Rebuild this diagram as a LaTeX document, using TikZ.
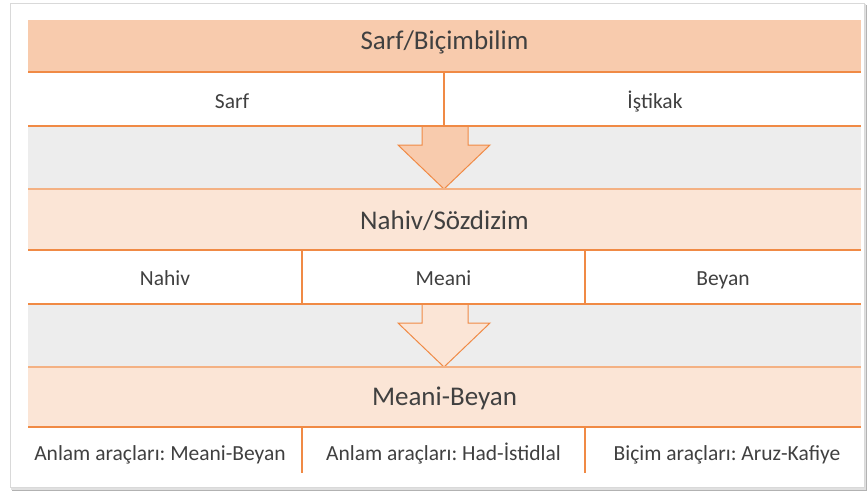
\documentclass[tikz,border=0pt]{standalone}
\usepackage{fontspec}
\setmainfont{Carlito}
\frenchspacing
\definecolor{peachA}{HTML}{F8CBAD}
\definecolor{peachB}{HTML}{FBE5D6}
\definecolor{bandgray}{HTML}{EDEDED}
\definecolor{orng}{HTML}{F08A45}
\definecolor{orngl}{HTML}{F4B183}
\definecolor{txt}{HTML}{404040}
\tikzset{
  hdrtext/.style={text=txt, font=\fontsize{27}{32}\selectfont, inner sep=0pt, anchor=base},
  celltext/.style={text=txt, font=\fontsize{21.5}{26}\selectfont, inner sep=0pt, anchor=base},
  thickline/.style={draw=orng, line width=2.2pt},
  thinline/.style={draw=orngl, line width=1.2pt},
  divline/.style={draw=orng, line width=2pt},
  bigarrow/.style={draw=orng, line width=1pt, line join=miter},
}
\begin{document}
\begin{tikzpicture}[x=1pt,y=-1pt]
\useasboundingbox (0,0) rectangle (868,493);
% frame with shadow
\fill[black!30] (12,5) rectangle (867,491);
\fill[black!12] (11,4) rectangle (866,489.5);
\filldraw[fill=white, draw=black!15, line width=0.8pt] (10,3) rectangle (864,487.5);

% bands
\fill[peachA] (28,20) rectangle (861,72);
\fill[bandgray] (28,126) rectangle (861,189);
\fill[peachB] (28,189) rectangle (861,250);
\fill[bandgray] (28,304) rectangle (861,367);
\fill[peachB] (28,367) rectangle (861,427);

% coordinates for lines
\coordinate (L1) at (28,72);  \coordinate (R1) at (861,72);
\coordinate (L2) at (28,126); \coordinate (R2) at (861,126);
\coordinate (L3) at (28,189); \coordinate (R3) at (861,189);
\coordinate (L4) at (28,250); \coordinate (R4) at (861,250);
\coordinate (L5) at (28,304); \coordinate (R5) at (861,304);
\coordinate (L6) at (28,367); \coordinate (R6) at (861,367);
\coordinate (L7) at (28,427); \coordinate (R7) at (861,427);

% arrows
\draw[bigarrow, fill=peachA] (422,126) -- (468,126) -- (468,145) -- (490,145) -- (444,189) -- (398,145) -- (422,145) -- cycle;
\draw[bigarrow, fill=peachB] (422,304) -- (468,304) -- (468,323) -- (490,323) -- (444,367) -- (398,323) -- (422,323) -- cycle;

% horizontal lines
\draw[thickline] (L1) -- (R1);
\draw[thickline] (L2) -- (R2);
\draw[thinline] (L3) -- (R3);
\draw[thickline] (L4) -- (R4);
\draw[thickline] (L5) -- (R5);
\draw[thinline] (L6) -- (R6);
\draw[thickline] (L7) -- (R7);

% vertical dividers
\coordinate (d1t) at (444,72);  \coordinate (d1b) at (444,126);
\coordinate (d2t) at (302,250); \coordinate (d2b) at (302,304);
\coordinate (d3t) at (585,250); \coordinate (d3b) at (585,304);
\coordinate (d4t) at (302,427); \coordinate (d4b) at (302,473);
\coordinate (d5t) at (585,427); \coordinate (d5b) at (585,473);
\draw[divline] (d1t) -- (d1b);
\draw[divline] (d2t) -- (d2b);
\draw[divline] (d3t) -- (d3b);
\draw[divline] (d4t) -- (d4b);
\draw[divline] (d5t) -- (d5b);

% texts
\node[hdrtext] (h1) at (444.5,49) {Sarf/Biçimbilim};
\node[celltext] (c11) at (232,108) {Sarf};
\node[celltext] (c12) at (655,108) {İştikak};
\node[hdrtext] (h2) at (444.5,229) {Nahiv/Sözdizim};
\node[celltext] (c21) at (165,285) {Nahiv};
\node[celltext] (c22) at (443.5,285) {Meani};
\node[celltext] (c23) at (723,285) {Beyan};
\node[hdrtext] (h3) at (444.5,405) {Meani-Beyan};
\node[celltext] (c31) at (160,460) {Anlam araçları: Meani-Beyan};
\node[celltext] (c32) at (443.5,460) {Anlam araçları: Had-İstidlal};
\node[celltext] (c33) at (727,460) {Biçim araçları: Aruz-Kafiye};
\end{tikzpicture}
\end{document}
